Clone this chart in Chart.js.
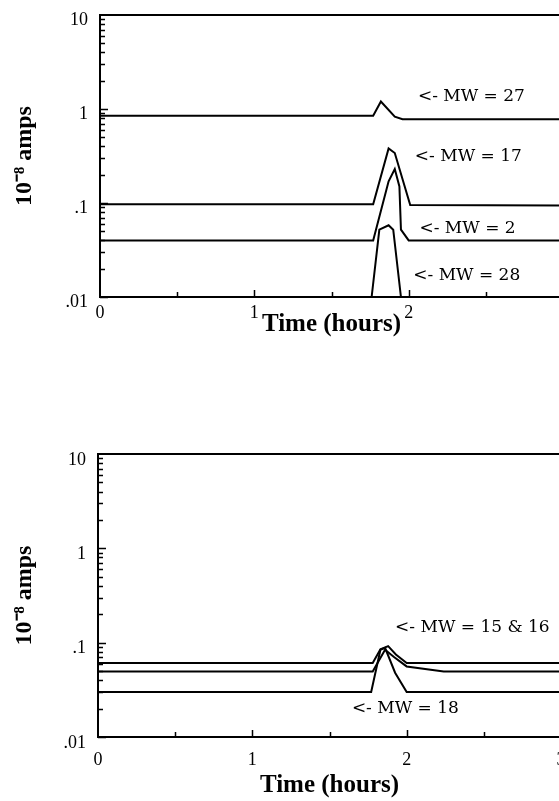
<!DOCTYPE html>
<html>
<head>
<meta charset="utf-8">
<script src="https://cdn.jsdelivr.net/npm/chart.js@4.4.1/dist/chart.umd.min.js"></script>
<style>
  body { margin: 0; background: #fff; overflow: hidden; }
  canvas { position: absolute; left: 0; }
  #topChart { top: 0; }
  #bottomChart { top: 400px; }
</style>
</head>
<body>
<canvas id="topChart" width="572" height="400"></canvas>
<canvas id="bottomChart" width="572" height="401"></canvas>
<script>
// top panel: MW 27, 17, 2, 28
var hours27 = [0, 1.77, 1.82, 1.91, 1.96, 3];
var amps27  = [0.85, 0.85, 1.2, 0.83, 0.78, 0.78];
var hours17 = [0, 1.77, 1.87, 1.91, 2.01, 3];
var amps17  = [0.097, 0.097, 0.38, 0.34, 0.095, 0.094];
var hours2  = [0, 1.77, 1.87, 1.91, 1.94, 1.95, 2.0, 3];
var amps2   = [0.04, 0.04, 0.17, 0.23, 0.15, 0.052, 0.04, 0.04];
var hours28 = [0, 1.76, 1.81, 1.87, 1.90, 1.95, 3];
var amps28  = [0.01, 0.01, 0.052, 0.058, 0.052, 0.01, 0.01];

// bottom panel: MW 15 & 16, 18
var hours15 = [0, 1.78, 1.83, 1.88, 1.93, 2.0, 3];
var amps15  = [0.061, 0.061, 0.085, 0.092, 0.075, 0.061, 0.061];
var hours16 = [0, 1.78, 1.86, 1.92, 2.0, 2.24, 3];
var amps16  = [0.0495, 0.0495, 0.084, 0.07, 0.056, 0.0495, 0.0495];
var hours18 = [0, 1.77, 1.83, 1.86, 1.925, 2.0, 3];
var amps18  = [0.03, 0.03, 0.084, 0.088, 0.048, 0.03, 0.03];

var xTicks = [0, 1, 2, 3];
var yTicks = [0.01, 0.1, 1, 10];
var yTickLabels = [".01", ".1", "1", "10"];

var topNotes = [
  {text: "<- MW = 27", x: 2.06, y: 1.34},
  {text: "<- MW = 17", x: 2.04, y: 0.31},
  {text: "<- MW = 2",  x: 2.07, y: 0.054},
  {text: "<- MW = 28", x: 2.03, y: 0.017}
];
var bottomNotes = [
  {text: "<- MW = 15 & 16", x: 1.925, y: 0.143},
  {text: "<- MW = 18",      x: 1.645, y: 0.0202}
];

var serif = "'Liberation Serif', 'Times New Roman', serif";

function series(xs, ys) {
  return {
    data: xs.map(function(x, i) { return {x: x, y: ys[i]}; }),
    borderColor: "#000",
    borderWidth: 2,
    pointRadius: 0,
    tension: 0,
    fill: false,
    clip: false
  };
}

function panel(id, datasets, notes, box) {
  var framePlugin = {
    id: "frame",
    afterDatasetsDraw: function(chart) {
      var ctx = chart.ctx, a = chart.chartArea;
      var xs = chart.scales.x, ys = chart.scales.y;
      ctx.save();
      ctx.strokeStyle = "#000";
      ctx.lineWidth = 2;
      ctx.strokeRect(a.left, a.top, a.right - a.left, a.bottom - a.top);

      // inside tick marks
      ctx.lineWidth = 1.5;
      ctx.beginPath();
      for (var d = 0; d < 3; d++) {
        for (var k = 1; k <= 9; k++) {
          var py = Math.round(ys.getPixelForValue(k * Math.pow(10, d - 2))) + 0.5;
          var len = k == 1 ? 8 : 5;
          ctx.moveTo(a.left, py);
          ctx.lineTo(a.left + len, py);
        }
      }
      for (var t = 0.5; t < 3; t += 0.5) {
        var px = Math.round(xs.getPixelForValue(t)) + 0.5;
        ctx.moveTo(px, a.bottom);
        ctx.lineTo(px, a.bottom - (t % 1 == 0 ? 7 : 5));
      }
      ctx.stroke();

      ctx.fillStyle = "#000";
      ctx.font = "17px 'DejaVu Serif', serif";
      ctx.textAlign = "left";
      ctx.textBaseline = "middle";
      notes.forEach(function(n) {
        ctx.fillText(n.text, xs.getPixelForValue(n.x), ys.getPixelForValue(n.y));
      });
      ctx.restore();
    }
  };

  return new Chart(document.getElementById(id), {
    type: "line",
    data: {datasets: datasets},
    options: {
      responsive: false,
      devicePixelRatio: 1,
      animation: false,
      layout: {padding: {top: box.top, right: box.right, left: 0, bottom: 0}},
      plugins: {legend: {display: false}, tooltip: {enabled: false}},
      scales: {
        x: {
          type: "linear",
          min: 0,
          max: 3,
          afterBuildTicks: function(s) { s.ticks = xTicks.map(function(v) { return {value: v}; }); },
          afterFit: function(s) { s.height = box.xAxisH; },
          grid: {display: false, drawTicks: true, tickLength: box.xTickPad},
          border: {display: false},
          ticks: {color: "#000", padding: 0, maxRotation: 0, font: {family: serif, size: 18}},
          title: {
            display: true,
            text: "Time (hours)",
            color: "#000",
            font: {family: serif, size: 25, weight: "bold", lineHeight: 1.2},
            padding: {top: 0, bottom: box.xTitlePad}
          }
        },
        y: {
          type: "logarithmic",
          min: 0.01,
          max: 10,
          afterBuildTicks: function(s) { s.ticks = yTicks.map(function(v) { return {value: v}; }); },
          afterFit: function(s) { s.width = box.yAxisW; },
          grid: {display: false, drawTicks: true, tickLength: 12},
          border: {display: false},
          ticks: {
            color: "#000",
            padding: 0,
            labelOffset: box.yLabelOffset,
            font: {family: serif, size: 18},
            callback: function(v) { return yTickLabels[yTicks.indexOf(v)]; }
          },
          title: {
            display: true,
            text: "10\u207B\u2078 amps",
            color: "#000",
            font: {family: serif, size: 24, weight: "bold", lineHeight: 1.2},
            padding: {top: 10, bottom: 0}
          }
        }
      }
    },
    plugins: [framePlugin]
  });
}

panel("topChart",
  [series(hours27, amps27), series(hours17, amps17), series(hours2, amps2), series(hours28, amps28)],
  topNotes,
  {top: 15, right: 9, xAxisH: 103, yAxisW: 100, xTickPad: 5, xTitlePad: 60, yLabelOffset: 5});

panel("bottomChart",
  [series(hours15, amps15), series(hours16, amps16), series(hours18, amps18)],
  bottomNotes,
  {top: 54, right: 11, xAxisH: 64, yAxisW: 98, xTickPad: 12, xTitlePad: 0, yLabelOffset: 6});
</script>
</body>
</html>
